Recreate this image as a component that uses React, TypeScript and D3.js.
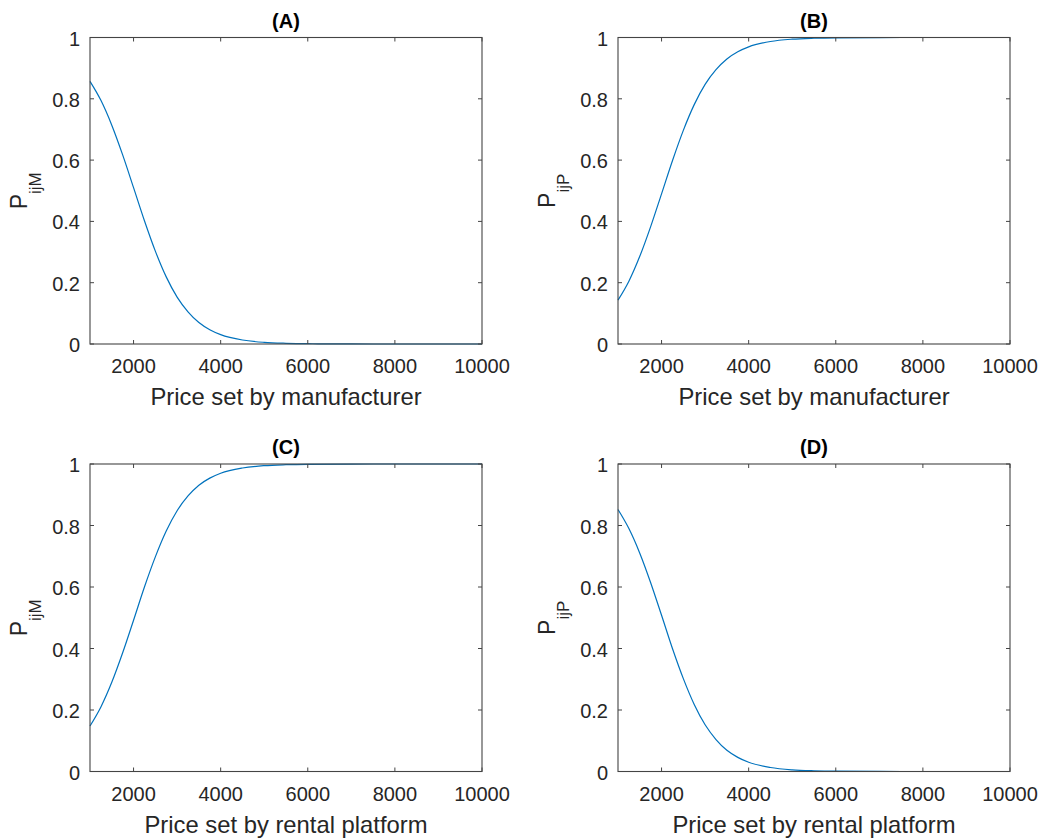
import React from "react";
import * as d3 from "d3";

// Price grid (x values) and probabilities
const PRICE = [1000, 1250, 1500, 1750, 2000, 2250, 2500, 2750, 3000, 3250, 3500, 3750, 4000, 4500, 5000, 5500, 6000, 7000, 8000, 9000, 10000];
const P_A = [0.857, 0.795, 0.714, 0.617, 0.51, 0.402, 0.303, 0.219, 0.153, 0.105, 0.07, 0.0465, 0.0305, 0.013, 0.0054, 0.0023, 0.0009, 0.0002, 0.0, 0.0, 0.0];
const P_B = [0.143, 0.205, 0.286, 0.383, 0.49, 0.598, 0.697, 0.781, 0.847, 0.895, 0.93, 0.9535, 0.9695, 0.987, 0.9946, 0.9977, 0.9991, 0.9998, 1.0, 1.0, 1.0];
const P_C = [0.148, 0.21, 0.29, 0.386, 0.492, 0.6, 0.698, 0.782, 0.848, 0.896, 0.931, 0.954, 0.97, 0.987, 0.9946, 0.9977, 0.9991, 0.9998, 1.0, 1.0, 1.0];
const P_D = [0.852, 0.79, 0.71, 0.614, 0.508, 0.4, 0.302, 0.218, 0.152, 0.104, 0.069, 0.046, 0.03, 0.013, 0.0054, 0.0023, 0.0009, 0.0002, 0.0, 0.0, 0.0];

const X_TICKS = [2000, 4000, 6000, 8000, 10000];
const Y_TICKS = [0, 0.2, 0.4, 0.6, 0.8, 1];
const TITLES = ["(A)", "(B)", "(C)", "(D)"];
const X_LABELS = ["Price set by manufacturer", "Price set by manufacturer", "Price set by rental platform", "Price set by rental platform"];
const Y_SUBS = ["ijM", "ijP", "ijM", "ijP"];

const FONT = "'Liberation Sans', Arial, Helvetica, sans-serif";
const AXIS = "#444444";
const LINE = "#0072BD";

type PanelProps = { left: number; right: number; top: number; bottom: number; values: number[]; title: string; xLabel: string; ySub: string };

function Panel({ left, right, top, bottom, values, title, xLabel, ySub }: PanelProps) {
  const x = d3.scaleLinear().domain([1000, 10000]).range([left, right]);
  const y = d3.scaleLinear().domain([0, 1]).range([bottom, top]);
  const line = d3
    .line<number>()
    .x((_, i) => x(PRICE[i]))
    .y((d) => y(d))
    .curve(d3.curveMonotoneX);
  const tl = 4;
  const cx = (left + right) / 2;
  const cy = (top + bottom) / 2;
  return (
    <g>
      <path d={line(values) || ""} fill="none" stroke={LINE} strokeWidth={1.2} />
      <rect x={left} y={top} width={right - left} height={bottom - top} fill="none" stroke={AXIS} strokeWidth={1.1} />
      {X_TICKS.map((t) => (
        <g key={"x" + t}>
          <line x1={x(t)} x2={x(t)} y1={bottom} y2={bottom - tl} stroke={AXIS} strokeWidth={1} />
          <line x1={x(t)} x2={x(t)} y1={top} y2={top + tl} stroke={AXIS} strokeWidth={1} />
          <text x={x(t)} y={bottom + 29} textAnchor="middle" fontSize={20} fill="#262626" fontFamily={FONT}>
            {t}
          </text>
        </g>
      ))}
      {Y_TICKS.map((t) => (
        <g key={"y" + t}>
          <line x1={left} x2={left + tl} y1={y(t)} y2={y(t)} stroke={AXIS} strokeWidth={1} />
          <line x1={right} x2={right - tl} y1={y(t)} y2={y(t)} stroke={AXIS} strokeWidth={1} />
          <text x={left - 10} y={y(t) + 8} textAnchor="end" fontSize={20} fill="#262626" fontFamily={FONT}>
            {t}
          </text>
        </g>
      ))}
      <text x={cx} y={top - 10} textAnchor="middle" fontSize={20} fontWeight="bold" fill="#000" fontFamily={FONT}>
        {title}
      </text>
      <text x={cx} y={bottom + 61} textAnchor="middle" fontSize={23.8} fill="#262626" fontFamily={FONT}>
        {xLabel}
      </text>
      <text
        transform={`translate(${left - 63},${cy}) rotate(-90)`}
        textAnchor="middle"
        fontSize={23}
        fill="#262626"
        fontFamily={FONT}
      >
        <tspan>P</tspan>
        <tspan fontSize={17} dy={14}>
          {ySub}
        </tspan>
      </text>
    </g>
  );
}

export default function App() {
  const panels = [
    { left: 90, right: 482, top: 37.5, bottom: 344, values: P_A },
    { left: 618, right: 1010, top: 37.5, bottom: 344, values: P_B },
    { left: 90, right: 482, top: 464, bottom: 771.5, values: P_C },
    { left: 618, right: 1010, top: 464, bottom: 771.5, values: P_D },
  ];
  return (
    <svg width={1041} height={839} style={{ position: "absolute", left: 0, top: 0, background: "#fff" }}>
      <rect x={0} y={0} width={1041} height={839} fill="#fff" />
      {panels.map((p, i) => (
        <Panel key={i} {...p} title={TITLES[i]} xLabel={X_LABELS[i]} ySub={Y_SUBS[i]} />
      ))}
    </svg>
  );
}
